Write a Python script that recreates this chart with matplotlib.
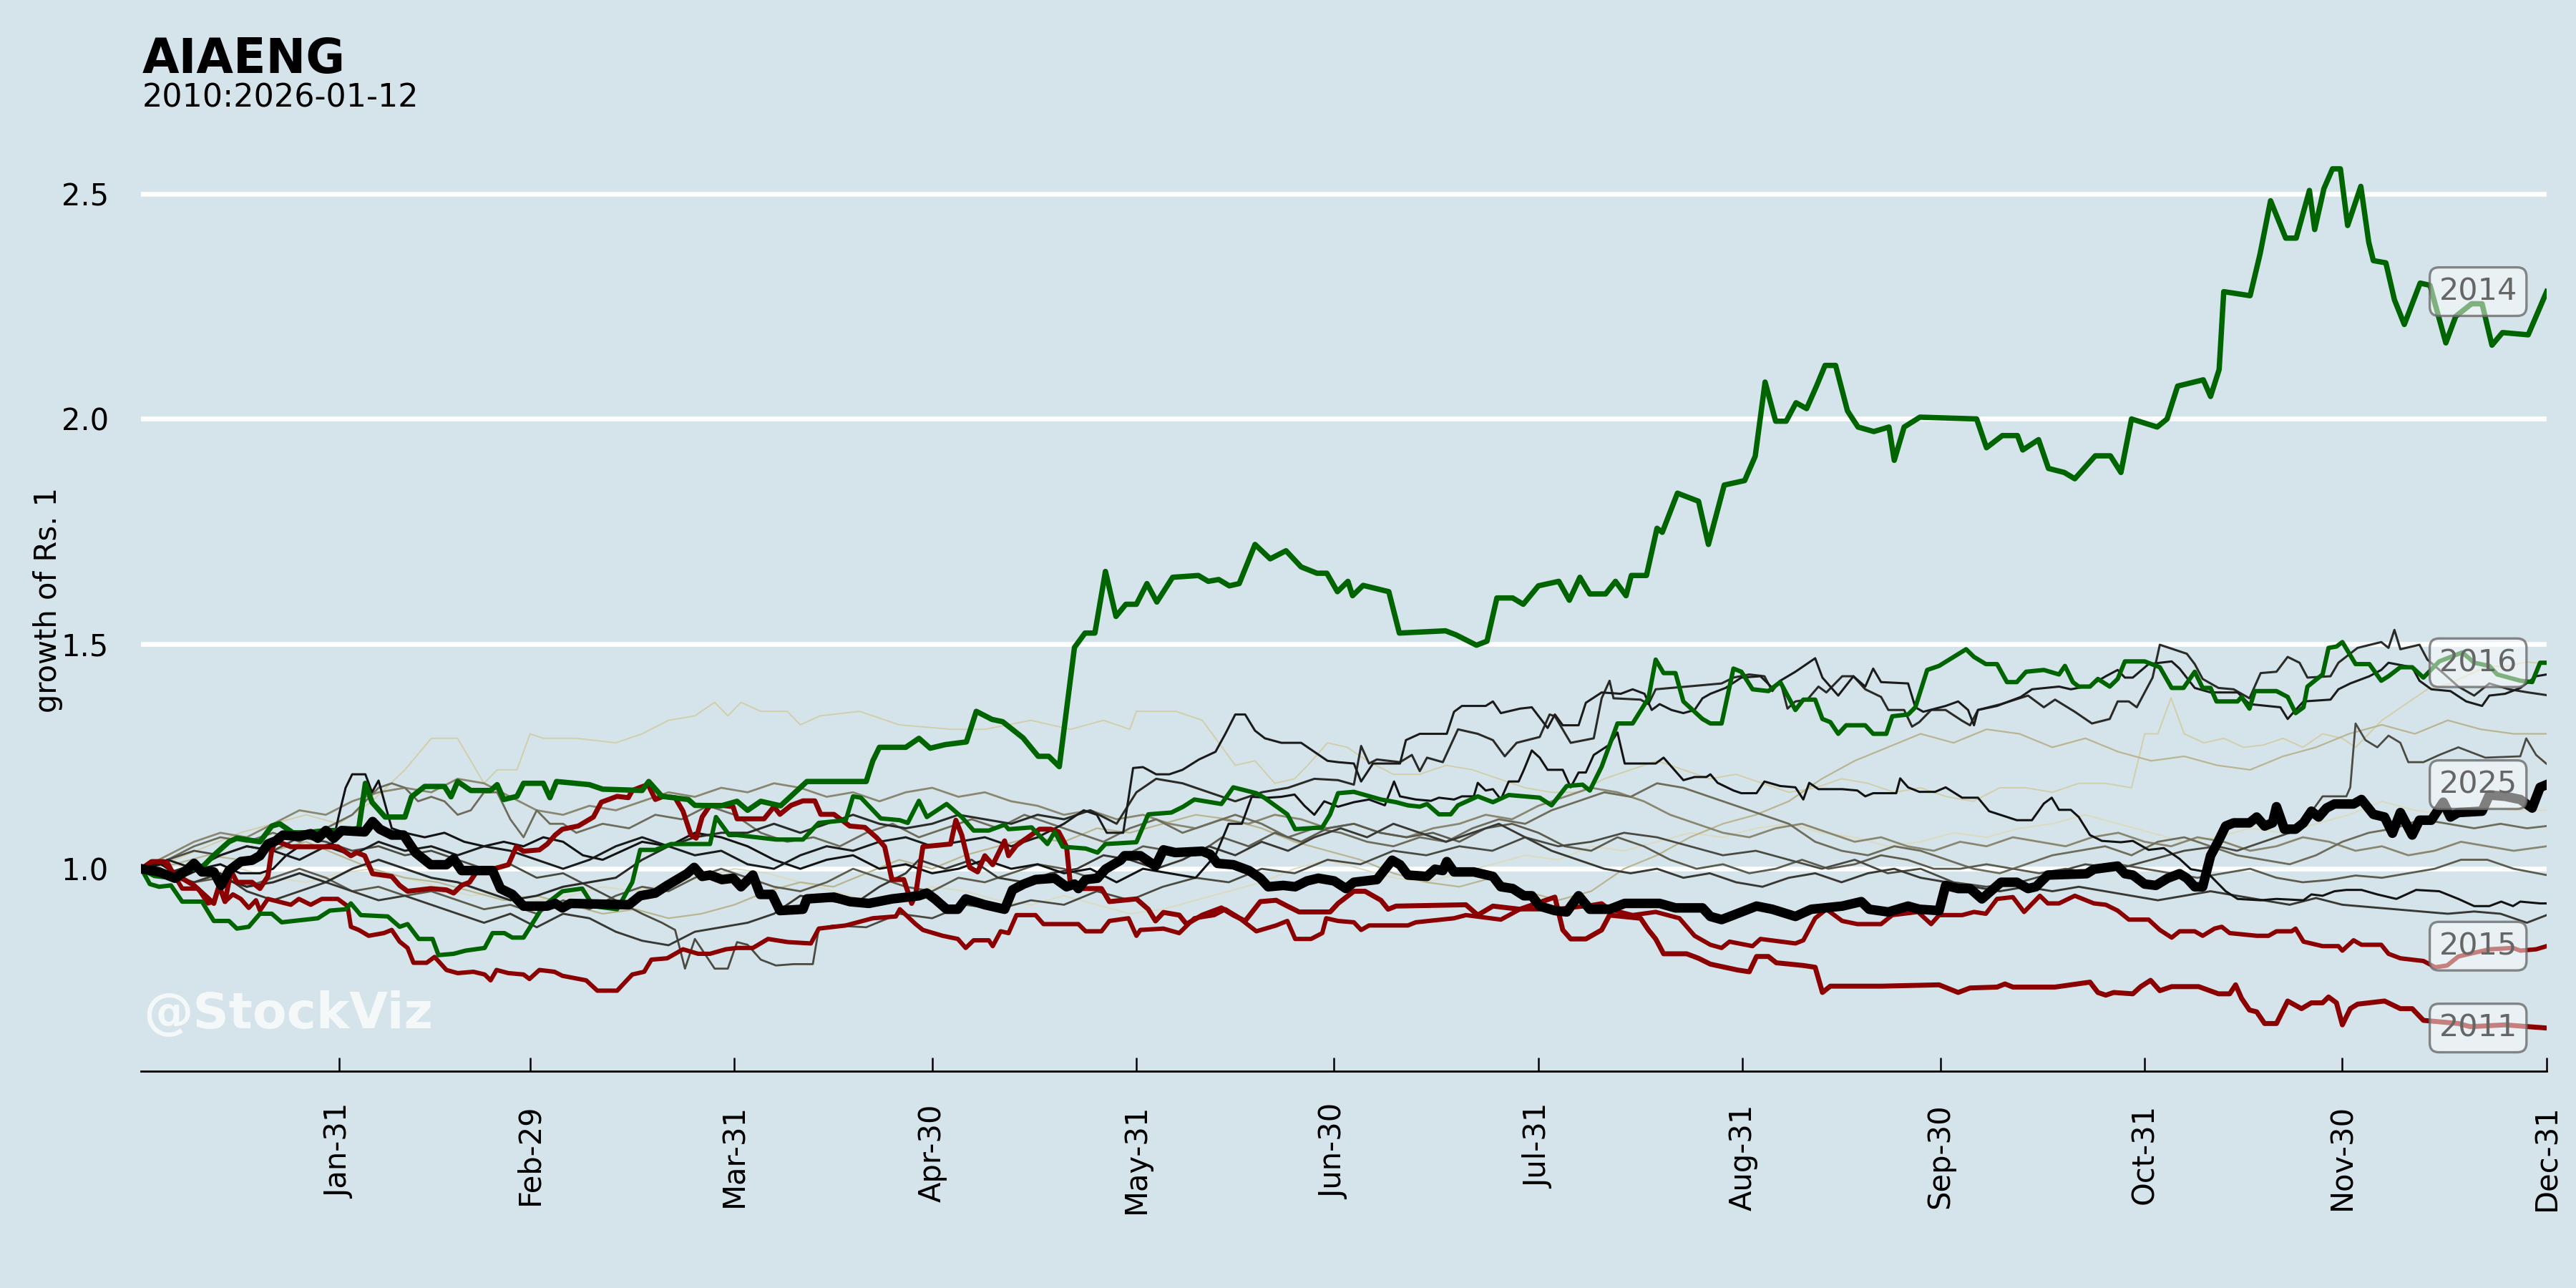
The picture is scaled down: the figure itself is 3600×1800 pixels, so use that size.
import matplotlib
matplotlib.use("Agg")
import matplotlib.pyplot as plt

# ---------------- data (day-of-year, growth of Rs. 1) ----------------
month_ticks = [30, 59, 90, 120, 151, 181, 212, 243, 273, 304, 334, 365]
month_labels = ["Jan-31", "Feb-29", "Mar-31", "Apr-30", "May-31", "Jun-30",
                "Jul-31", "Aug-31", "Sep-30", "Oct-31", "Nov-30", "Dec-31"]

s2014 = [(0,1.0),(2,0.985),(5,0.98),(7,1.0),(9,1.0),(11,1.03),(13.3,1.06),(14.5,1.068),(18,1.06),
 (19.8,1.095),(21,1.1),(23,1.08),(25,1.08),(28,1.085),(31,1.085),(33,1.09),(34,1.19),(35,1.148),
 (37,1.115),(40,1.115),(41,1.16),(43,1.183),(46,1.183),(47,1.16),(48,1.194),(50,1.174),(53,1.174),
 (54,1.187),(55,1.154),(57,1.161),(58,1.19),(61,1.19),(62,1.158),(63,1.194),(68,1.187),(70,1.177),
 (76,1.174),(77,1.194),(79,1.161),(83,1.154),(84,1.141),(88,1.14),(90.4,1.15),(92,1.13),(94,1.15),
 (97,1.14),(101,1.194),(110,1.194),(111,1.24),(112,1.27),(116,1.27),(118,1.29),(119.7,1.268),
 (122,1.276),(125.2,1.282),(126.7,1.35),(129.1,1.332),(130.7,1.327),(133.8,1.291),(136.1,1.25),
 (137.7,1.25),(139.3,1.227),(141.6,1.492),(143.2,1.524),(144.7,1.524),(146.3,1.661),(147.9,1.561),
 (149.4,1.588),(151,1.588),(152.6,1.634),(154.1,1.593),(156.5,1.648),(160.4,1.652),(161.9,1.639),
 (163.5,1.643),(165.1,1.629),(166.6,1.634),(169,1.721),(171.3,1.689),(173.7,1.707),(176,1.671),
 (178.4,1.657),(179.9,1.657),(181.5,1.616),(183.1,1.639),(183.8,1.607),(185.4,1.63),(189.3,1.616),
 (190.9,1.524),(197.9,1.529),(199.5,1.52),(202.6,1.497),(204.2,1.506),(205.7,1.602),(208.1,1.602),
 (209.7,1.588),(212,1.629),(215.1,1.639),(216.7,1.597),(218.3,1.648),(219.8,1.611),(222.2,1.611),
 (223.7,1.639),(225.3,1.607),(226.1,1.652),(228.4,1.652),(230,1.757),(230.8,1.748),(233.1,1.835),
 (236.3,1.817),(237.8,1.721),(240.2,1.853),(243.3,1.863),(244.9,1.917),(246.4,2.082),(248,1.995),
 (249.6,1.995),(251.1,2.036),(252.7,2.023),(254.2,2.073),(255.5,2.119),(257.1,2.119),(258.9,2.018),
 (260.5,1.982),(262.9,1.972),(265.2,1.982),(266,1.908),(267.5,1.982),(269.9,2.004),(278.5,2.0),
 (280,1.936),(282.4,1.963),(284.7,1.963),(285.5,1.931),(287.9,1.954),(289.4,1.89),(291.8,1.881),
 (293.4,1.867),(296.5,1.918),(298.8,1.918),(300.4,1.881),(302,2.0),(305.9,1.982),(307.4,2.0),
 (309,2.073),(312.9,2.087),(314,2.05),(315.3,2.11),(316,2.283),(320,2.274),(321.5,2.366),
 (323.1,2.485),(325.4,2.402),(327,2.402),(329,2.508),(329.8,2.421),(331.2,2.512),(332.5,2.556),
 (333.7,2.556),(334.8,2.43),(336.8,2.517),(338,2.393),(338.7,2.352),(340.6,2.347),(341.9,2.265),
 (343.4,2.21),(345.8,2.302),(347.3,2.297),(349.7,2.169),(351.2,2.228),(353.6,2.256),(355.2,2.256),
 (356.7,2.164),(358.3,2.192),(362.2,2.187),(365,2.283)]

s2016 = [(0,1.0),(1.3,0.966),(2.7,0.96),(4.5,0.963),(6.2,0.927),(9.2,0.927),(11,0.884),(13.3,0.884),
 (14.5,0.867),(16.3,0.871),(18,0.9),(19.8,0.9),(21.3,0.881),(26.8,0.89),(28.6,0.907),(31,0.91),
 (31.8,0.923),(33.3,0.897),(37.4,0.894),(39.2,0.871),(40.4,0.877),(42.1,0.844),(44.2,0.844),
 (45.1,0.808),(47.4,0.811),(49.2,0.818),(52.1,0.824),(53.3,0.857),(55.1,0.857),(56.3,0.847),
 (58,0.847),(61,0.917),(63.9,0.95),(66.9,0.956),(68.6,0.917),(72.2,0.91),(74.5,0.97),(75.7,1.042),
 (78,1.042),(80.4,1.055),(86.3,1.055),(87.2,1.115),(89.2,1.075),(90.4,1.075),(96.3,1.065),
 (100.4,1.065),(102.8,1.102),(106.9,1.108),(108,1.161),(109.2,1.158),(112.2,1.112),(115.1,1.108),
 (116.3,1.102),(118,1.151),(119.2,1.115),(122.2,1.144),(124.5,1.115),(126.3,1.085),(128.6,1.085),
 (131,1.098),(131.6,1.088),(135.1,1.092),(137.5,1.055),(138.6,1.082),(139.8,1.049),(143.3,1.045),
 (145.1,1.036),(146.3,1.055),(151,1.059),(152.8,1.121),(156.3,1.125),(158.1,1.138),(159.8,1.154),
 (163.9,1.144),(165.7,1.181),(169.2,1.168),(170.4,1.158),(173.9,1.121),(175.1,1.088),(179.2,1.092),
 (180.4,1.121),(181.6,1.168),(184,1.171),(188.1,1.154),(190.4,1.148),(192.2,1.141),(194,1.138),
 (195.1,1.144),(196.9,1.121),(198.7,1.121),(199.8,1.141),(202.8,1.161),(205.1,1.148),(207.5,1.164),
 (212.2,1.158),(214,1.141),(216.3,1.184),(218.7,1.187),(219.8,1.174),(221.6,1.227),(224,1.323),
 (226.3,1.323),(228.7,1.379),(229.8,1.465),(231,1.435),(232.8,1.435),(234,1.372),(236.9,1.333),
 (238.1,1.323),(239.8,1.323),(241.6,1.445),(242.8,1.438),(244.5,1.399),(246.9,1.395),(248.7,1.415),
 (251,1.353),(252.2,1.376),(254,1.376),(255.1,1.333),(256.3,1.326),(257.5,1.3),(258.7,1.319),
 (261.6,1.319),(262.8,1.3),(264.8,1.3),(265.7,1.339),(268.1,1.343),(269.2,1.359),(271,1.442),
 (272.8,1.451),(276.9,1.488),(278.1,1.471),(279.9,1.455),(281.6,1.455),(283.1,1.415),(284.6,1.415),
 (286,1.438),(288.7,1.442),(291,1.432),(291.9,1.451),(293.1,1.415),(294,1.405),(295.7,1.405),
 (296.9,1.422),(298.7,1.405),(299.9,1.422),(301,1.461),(304,1.461),(306.3,1.448),(308.1,1.402),
 (309.9,1.402),(311.6,1.438),(312.8,1.402),(314,1.402),(314.9,1.372),(318.1,1.372),(318.7,1.382),
 (319.9,1.356),(320.7,1.395),(324,1.395),(325.7,1.382),(326.9,1.346),(328.1,1.359),(328.7,1.405),
 (331,1.432),(331.9,1.491),(333.1,1.494),(334,1.504),(336,1.455),(338.1,1.455),(339.9,1.418),
 (341,1.428),(342.8,1.448),(344.6,1.448),(346.3,1.425),(348.7,1.461),(352.2,1.481),(354,1.458),
 (356.3,1.451),(357.5,1.432),(361,1.418),(362.8,1.415),(364,1.458),(365,1.458)]

s2011 = [(0,1.0),(1.6,1.016),(3.4,1.016),(4.5,0.996),(5.7,0.983),(8,0.963),(11,0.923),(11.8,0.963),
 (12.7,0.927),(13.6,0.996),(14.5,0.97),(16.8,0.97),(18,0.956),(19.2,0.983),(19.8,1.042),(20.4,1.062),
 (22.7,1.049),(29.8,1.049),(31.8,1.029),(32.7,1.036),(33.9,1.029),(35.1,0.989),(38,0.983),(39.2,0.963),
 (40.4,0.95),(43.9,0.956),(46.3,0.953),(47.4,0.946),(48.6,0.963),(49.8,0.97),(51,0.996),(53.3,0.999),
 (55.7,1.009),(56.9,1.049),(58,1.039),(60.4,1.042),(61.6,1.055),(62.8,1.075),(63.9,1.088),(66.3,1.095),
 (68.6,1.115),(69.8,1.148),(72.2,1.161),(73.9,1.158),(74.5,1.174),(75.7,1.181),(76.9,1.187),(78,1.154),
 (79.2,1.161),(81,1.158),(82.2,1.128),(83.4,1.075),(84.2,1.068),(85.1,1.115),(86.3,1.141),(88.1,1.141),
 (89.8,1.138),(90.4,1.111),(94.5,1.111),(96,1.138),(96.9,1.121),(98.6,1.141),(100.4,1.151),
 (102.2,1.151),(103.1,1.121),(105.1,1.121),(107.5,1.095),(109.8,1.092),(111.6,1.069),(112.8,1.049),
 (113.9,0.976),(115.7,0.976),(116.9,0.923),(117.5,0.943),(118.6,1.049),(122.8,1.055),(123.6,1.108),
 (124.5,1.075),(125.7,1.003),(126.9,0.993),(128,1.029),(129.2,1.009),(131,1.062),(131.6,1.029),
 (132.8,1.052),(136.3,1.088),(138,1.088),(139.2,1.082),(140.4,1.049),(141,0.963),(142.2,0.956),
 (145.7,0.956),(146.9,0.927),(151,0.933),(152.8,0.91),(153.9,0.884),(155.1,0.903),(157.5,0.897),
 (158.6,0.877),(161,0.897),(163.9,0.913),(165.7,0.897),(167.5,0.884),(169.8,0.927),(172.2,0.93),
 (173.9,0.917),(175.7,0.904),(180.4,0.904),(181.6,0.923),(184,0.95),(185.7,0.95),(188.1,0.93),
 (189.2,0.91),(190.4,0.917),(201,0.92),(202.8,0.897),(205.1,0.917),(209.2,0.91),(214.5,0.937),
 (215.7,0.864),(216.9,0.844),(219.2,0.844),(221.6,0.864),(222.8,0.897),(227.5,0.89),(228.7,0.864),
 (229.8,0.844),(231,0.811),(234.5,0.811),(236.3,0.801),(238.1,0.788),(242.2,0.775),(244,0.771),
 (245.1,0.805),(246.9,0.805),(248.1,0.791),(252.2,0.785),(254,0.781),(255.1,0.725),(256.3,0.739),
 (264,0.739),(272.8,0.742),(275.7,0.725),(277.5,0.735),(281.6,0.737),(282.8,0.744),(284,0.737),
 (290.4,0.737),(292.8,0.742),(295.7,0.748),(296.9,0.725),(298.1,0.719),(299.3,0.725),(302.2,0.722),
 (303.4,0.738),(304.9,0.752),(306.3,0.729),(308.1,0.738),(312.2,0.738),(315.2,0.722),(316.9,0.722),
 (317.8,0.742),(318.7,0.712),(319.9,0.686),(321,0.682),(322.2,0.656),(324,0.656),(325.7,0.706),
 (327.8,0.689),(329.3,0.702),(331,0.702),(331.9,0.715),(333.1,0.702),(334,0.653),(335.2,0.689),
 (336.3,0.699),(340.4,0.706),(342.8,0.689),(344.6,0.689),(346.3,0.663),(351.6,0.656),(353.4,0.649),
 (358.7,0.653),(362.2,0.649),(365,0.646)]

s2015 = [(0,1.0),(1.5,1.016),(3.9,1.016),(5.1,0.983),(6.2,0.956),(8.6,0.956),(10.1,0.923),(11,0.927),
 (11.8,0.963),(12.7,0.927),(13.9,0.943),(15.1,0.933),(16.3,0.913),(17.4,0.93),(18,0.907),(19.2,0.933),
 (22.7,0.92),(23.9,0.933),(25.7,0.92),(27.4,0.933),(29.8,0.933),(31.3,0.917),(31.8,0.871),(33,0.864),
 (34.5,0.851),(36.8,0.857),(38,0.864),(39.2,0.838),(40.4,0.824),(41.3,0.791),(43.3,0.791),(44.5,0.804),
 (46.3,0.775),(48,0.768),(50.4,0.771),(52.1,0.765),(53,0.752),(53.9,0.775),(55.7,0.768),(58,0.765),
 (58.9,0.755),(60.4,0.775),(62.7,0.771),(63.9,0.762),(67.5,0.752),(69.2,0.729),(72.2,0.729),
 (74.5,0.765),(76.3,0.771),(77.4,0.798),(79.8,0.801),(82.2,0.821),(84.5,0.811),(86.3,0.811),
 (88.7,0.821),(90.4,0.824),(92.8,0.824),(95.1,0.844),(98.1,0.837),(101.6,0.834),(102.8,0.867),
 (106.9,0.874),(111,0.89),(114.5,0.894),(115.1,0.91),(117.5,0.877),(118.6,0.864),(121.6,0.851),
 (123.9,0.844),(125.1,0.824),(126.3,0.841),(128.6,0.841),(129.2,0.828),(130.4,0.861),(131.6,0.857),
 (132.8,0.897),(135.7,0.897),(136.9,0.877),(142.2,0.877),(143.3,0.861),(145.7,0.861),(146.9,0.884),
 (149.8,0.89),(151,0.851),(151.6,0.864),(155.1,0.867),(157.5,0.857),(159.8,0.89),(162.8,0.897),
 (164.5,0.91),(166.3,0.894),(169.2,0.861),(172.2,0.874),(173.9,0.884),(175.1,0.844),(177.5,0.844),
 (179.2,0.857),(179.8,0.89),(181.6,0.884),(184,0.881),(185.1,0.864),(186.3,0.874),(192.2,0.874),
 (193.4,0.881),(199.2,0.89),(201,0.897),(206.3,0.887),(209.2,0.91),(214.5,0.91),(219.2,0.917),
 (221.6,0.923),(222.8,0.91),(226.3,0.897),(229.8,0.904),(233.4,0.89),(235.7,0.851),(238.1,0.831),
 (239.8,0.824),(241,0.838),(244.5,0.828),(245.7,0.844),(251,0.834),(252.2,0.841),(254,0.89),
 (255.7,0.91),(258.1,0.884),(260.4,0.877),(264,0.877),(265.7,0.897),(269.6,0.904),(271.6,0.877),
 (272.8,0.897),(276.3,0.897),(278.1,0.904),(279.9,0.9),(281.6,0.933),(284,0.937),(285.7,0.904),
 (288.1,0.94),(289.3,0.923),(291,0.923),(293.4,0.94),(296.3,0.923),(298.1,0.92),(299.9,0.907),
 (301.6,0.887),(304.6,0.887),(306.3,0.864),(308.1,0.847),(309.3,0.861),(311.6,0.861),(312.8,0.851),
 (314.6,0.867),(315.7,0.871),(316.9,0.857),(321,0.851),(322.8,0.851),(324,0.861),(326.3,0.861),
 (326.9,0.867),(328.1,0.838),(331,0.828),(333.4,0.828),(334,0.818),(335.7,0.841),(336.9,0.831),
 (339.9,0.831),(341,0.811),(342.8,0.801),(346.3,0.795),(348.1,0.781),(349.9,0.785),(351.6,0.805),
 (356.3,0.821),(359.9,0.824),(361,0.818),(363.4,0.821),(365,0.828)]

s2025 = [(0,1.0),(2.7,0.993),(5.1,0.979),(6.8,0.996),(8,1.012),(9.2,0.993),(11,0.993),(12.1,0.963),
 (13.3,0.996),(15.1,1.016),(16.8,1.019),(18,1.029),(19.2,1.055),(20.4,1.062),(21.5,1.075),(23.9,1.072),
 (25.7,1.078),(26.8,1.068),(28,1.085),(29.2,1.068),(30.4,1.085),(33.9,1.082),(35.1,1.105),(36.2,1.088),
 (38,1.075),(39.8,1.075),(41.6,1.036),(43.9,1.009),(46.3,1.009),(47.4,1.022),(48.6,0.996),(53.3,0.996),
 (54.5,0.956),(56.3,0.943),(58,0.917),(61.6,0.917),(62.8,0.923),(63.9,0.913),(65.1,0.923),(74,0.92),
 (75.7,0.94),(78,0.946),(79.8,0.963),(82.8,0.989),(83.9,1.003),(85.1,0.983),(86.3,0.986),(88.1,0.976),
 (89.8,0.979),(91,0.96),(92.8,0.986),(93.9,0.943),(95.7,0.943),(96.9,0.907),(100.4,0.91),(101,0.933),
 (105.1,0.937),(107.5,0.927),(110.4,0.923),(113.9,0.933),(118,0.94),(119.2,0.946),(120.4,0.933),
 (122.2,0.91),(123.9,0.91),(125.1,0.933),(128,0.92),(131,0.91),(132.2,0.953),(133.9,0.966),
 (135.7,0.976),(138.6,0.979),(140.4,0.96),(141.6,0.966),(142.2,0.956),(143.3,0.976),(145.1,0.979),
 (146.3,0.999),(148.6,1.019),(149.2,1.029),(151.6,1.029),(153.9,1.006),(155.1,1.042),(156.9,1.036),
 (161,1.039),(162.2,1.032),(163.3,1.012),(165.7,1.009),(168.1,0.996),(169.8,0.979),(171,0.96),
 (173.3,0.963),(175.1,0.96),(176.9,0.973),(178.6,0.979),(181,0.973),(182.8,0.956),(184,0.97),
 (187.5,0.976),(189.8,1.019),(191,1.009),(192.2,0.986),(195.1,0.983),(196.3,0.999),(197.5,0.996),
 (198.1,1.016),(199.2,0.993),(202.2,0.993),(205.1,0.983),(206.3,0.96),(208.1,0.956),(209.8,0.94),
 (211,0.94),(212.2,0.917),(214.5,0.907),(216.3,0.904),(218.1,0.94),(219.8,0.91),(222.8,0.91),
 (225.1,0.923),(230.4,0.923),(232.8,0.913),(236.9,0.913),(238.1,0.894),(239.8,0.887),(241.6,0.897),
 (245.1,0.917),(247.5,0.91),(251,0.894),(253.4,0.91),(258.1,0.917),(261,0.927),(262.2,0.91),
 (265.1,0.904),(268.1,0.917),(269.8,0.91),(272.8,0.907),(273.8,0.963),(275.7,0.956),(277.5,0.956),
 (279.3,0.933),(282.2,0.97),(284.6,0.97),(286.3,0.956),(287.5,0.96),(289.3,0.986),(295.2,0.989),
 (296.3,0.999),(299.9,1.006),(301,0.989),(302.2,0.986),(304,0.966),(305.7,0.963),(307.5,0.979),
 (309.3,0.989),(310.4,0.979),(311.6,0.96),(312.8,0.96),(314,1.029),(315.2,1.062),(316.3,1.095),
 (317.5,1.102),(319.9,1.102),(321,1.115),(322.2,1.095),(323.4,1.102),(324,1.138),(325.2,1.088),
 (326.9,1.088),(328.1,1.102),(329.3,1.128),(330.4,1.115),(331.6,1.135),(332.8,1.144),(335.7,1.144),
 (336.9,1.154),(338.7,1.121),(340.4,1.115),(341.6,1.079),(342.8,1.125),(344.6,1.075),(345.7,1.108),
 (347.5,1.108),(349.3,1.148),(350.4,1.115),(351.6,1.125),(355.2,1.128),(356.3,1.164),(358.7,1.161),
 (361,1.154),(362.8,1.135),(364,1.181),(365,1.187)]

s2024 = [(0,1.0),(4,1.02),(8,1.0),(12,1.03),(16,1.05),(20,1.04),(24,1.02),(28,1.05),(32,1.03),(36,1.06),
 (40,1.04),(44,1.05),(48,1.03),(52,1.05),(56,1.04),(60,1.02),(64,1.0),(68,1.02),(72,1.05),(76,1.07),
 (80,1.05),(84,1.03),(88,1.04),(92,1.01),(96,1.0),(100,1.03),(104,1.05),(108,1.04),(112,1.06),
 (116,1.07),(120,1.05),(124,1.06),(128,1.07),(132,1.05),(136,1.07),(140,1.1),(143,1.13),(145,1.12),
 (146.5,1.08),(149,1.08),(150.5,1.224),(152,1.226),(154,1.21),(156,1.21),(158,1.22),(160.5,1.243),
 (163,1.26),(164.5,1.3),(166,1.343),(167.5,1.343),(169,1.307),(170.5,1.29),(173,1.28),(176,1.28),
 (178,1.26),(180,1.24),(181.6,1.237),(184,1.234),(185.1,1.194),(186.9,1.234),(191,1.234),
 (191.9,1.286),(194,1.3),(198.1,1.3),(199.2,1.349),(200.4,1.362),(204,1.362),(205.1,1.372),
 (206.3,1.346),(209.2,1.356),(211,1.359),(213.4,1.313),(214.5,1.343),(215.7,1.319),(218.1,1.319),
 (219.2,1.369),(221.6,1.392),(224.5,1.389),(226.3,1.399),(228.1,1.389),(229.2,1.353),(230.4,1.366),
 (232.2,1.353),(234,1.346),(235.7,1.353),(236.9,1.379),(238.1,1.389),(240.4,1.402),(242.8,1.425),
 (245.7,1.428),(247.5,1.402),(248.7,1.418),(251,1.438),(254,1.468),(255.1,1.425),(257.5,1.385),
 (259.8,1.428),(261.6,1.405),(262.8,1.445),(264,1.415),(268.1,1.412),(269.2,1.359),(270.4,1.349),
 (273.8,1.362),(275.7,1.372),(277.2,1.353),(278.1,1.319),(278.7,1.353),(281.6,1.362),(285.2,1.382),
 (286.9,1.399),(291,1.405),(292.8,1.399),(295.7,1.407),(298.1,1.428),(299.9,1.442),(301,1.425),
 (302.2,1.425),(304.6,1.455),(308.1,1.461),(309.3,1.445),(311.6,1.402),(314,1.392),(318.1,1.392),
 (319.9,1.366),(324.6,1.359),(325.7,1.333),(326.9,1.353),(328.1,1.372),(332.2,1.376),(333.4,1.399),
 (335.2,1.412),(338.1,1.428),(339.9,1.442),(341,1.458),(344.6,1.448),(345.7,1.418),(347.5,1.399),
 (350.4,1.395),(352.8,1.372),(355.2,1.362),(356.3,1.385),(358.7,1.389),(361,1.402),(363.4,1.428),
 (365,1.432)]

s2023 = [(0,1.0),(4,0.99),(8,1.01),(12,0.98),(16,0.96),(20,0.97),(24,0.99),(28,0.97),(32,1.0),(36,1.02),
 (40,1.0),(44,0.98),(48,0.97),(52,0.95),(56,0.93),(60,0.94),(64,0.96),(68,0.97),(72,0.98),(76,1.02),
 (80,1.05),(84,1.07),(88,1.08),(92,1.08),(96,1.1),(100,1.08),(104,1.1),(108,1.12),(112,1.1),(116,1.09),
 (120,1.1),(124,1.12),(128,1.11),(132,1.1),(136,1.12),(140,1.11),(144,1.13),(148,1.1),(151,1.17),
 (154,1.2),(158,1.19),(162,1.17),(166,1.15),(170,1.17),(174,1.18),(178,1.2),(181.6,1.197),(184,1.187),
 (185.1,1.273),(186.3,1.234),(187.5,1.243),(191,1.237),(192.8,1.253),(194,1.217),(195.1,1.247),
 (197.5,1.237),(199.8,1.31),(202.8,1.3),(205.1,1.286),(206.9,1.25),(208.7,1.28),(212.2,1.293),
 (213.7,1.343),(214.5,1.339),(216.9,1.28),(220.4,1.29),(221.6,1.379),(222.8,1.418),(223.4,1.379),
 (227.5,1.376),(228.7,1.366),(229.8,1.399),(234.5,1.405),(239.8,1.412),(241.6,1.425),(244,1.432),
 (246.3,1.428),(247.5,1.395),(248.7,1.418),(249.8,1.356),(251,1.372),(252.8,1.376),(254.5,1.405),
 (255.7,1.392),(258.1,1.428),(259.8,1.428),(261.6,1.399),(264,1.382),(265.1,1.353),(267.5,1.353),
 (268.7,1.316),(269.8,1.326),(271.6,1.353),(273.8,1.353),(276.3,1.329),(277.5,1.319),(278.7,1.353),
 (282.2,1.366),(286.3,1.385),(288.7,1.359),(290.4,1.376),(293.4,1.349),(296,1.323),(298.7,1.333),
 (299.9,1.372),(301.6,1.372),(302.8,1.359),(305.2,1.425),(306.3,1.498),(310.4,1.478),(311.6,1.455),
 (312.8,1.422),(315.2,1.402),(317.5,1.399),(319.9,1.379),(321.6,1.435),(324,1.438),(325.7,1.471),
 (327.5,1.458),(328.7,1.425),(332.2,1.428),(333.4,1.458),(336.3,1.491),(339.9,1.504),(341,1.491),
 (341.9,1.531),(342.8,1.488),(345.7,1.498),(346.9,1.465),(349.3,1.435),(351.6,1.405),(354,1.385),
 (356.3,1.412),(359.3,1.399),(362.2,1.392),(365,1.386)]

s2022 = [(0,1.0),(3,1.01),(6,0.98),(9,1.0),(12,1.01),(15,0.99),(18,0.99),(20,1.0),(22,1.03),(24,1.05),
 (27,1.05),(29,1.055),(30,1.12),(31,1.18),(32,1.21),(34,1.21),(35,1.17),(36,1.196),(38,1.09),(40,1.08),
 (43,1.07),(46,1.08),(49,1.06),(52,1.05),(55,1.06),(58,1.05),(61,1.07),(64,1.06),(67,1.03),(70,1.02),
 (73,1.04),(76,1.06),(80,1.05),(84,1.08),(88,1.07),(92,1.05),(96,1.02),(100,1.0),(104,1.02),(108,1.03),
 (112,1.0),(116,1.01),(120,0.99),(124,1.0),(128,1.02),(132,1.0),(136,1.01),(140,0.99),(144,1.0),
 (148,0.97),(152,1.0),(156,0.99),(160,0.98),(163,1.03),(165,1.1),(167,1.1),(168.5,1.16),(171,1.158),
 (173,1.16),(175,1.165),(176.5,1.14),(178,1.12),(179.5,1.15),(181.6,1.138),(184,1.148),(186.3,1.154),
 (188.7,1.141),(190.1,1.194),(191,1.161),(193.4,1.154),(195.7,1.151),(196.9,1.158),(199.2,1.154),
 (200.4,1.161),(202.2,1.161),(202.8,1.191),(204,1.174),(205.1,1.177),(206.3,1.154),(207.5,1.194),
 (209,1.194),(209.8,1.22),(211,1.263),(212.2,1.247),(213.4,1.22),(215.7,1.22),(216.9,1.181),
 (218.1,1.214),(219.2,1.214),(220.4,1.253),(222.8,1.276),(224,1.303),(225.1,1.234),(227.5,1.234),
 (229.8,1.234),(231,1.247),(232.2,1.227),(234,1.197),(235.7,1.204),(237.5,1.204),(238.1,1.21),
 (239.2,1.191),(241.6,1.174),(242.8,1.168),(245.1,1.168),(246.3,1.194),(248.7,1.184),(251,1.181),
 (252.2,1.154),(253.1,1.191),(254.5,1.177),(258.1,1.177),(260.4,1.174),(261.6,1.161),(262.8,1.168),
 (266.3,1.168),(266.9,1.201),(268.1,1.181),(269.8,1.171),(272.2,1.171),(273.8,1.181),(276.3,1.158),
 (278.7,1.158),(280.4,1.128),(284.6,1.108),(286.9,1.108),(288.7,1.145),(289.9,1.158),(291,1.131),
 (292.8,1.131),(294,1.115),(295.7,1.075),(297.5,1.062),(300.4,1.059),(302.2,1.062),(304.6,1.042),
 (306.9,1.046),(309.3,1.022),(311,0.999),(313.4,0.993),(316.3,0.95),(318.1,0.933),(321.6,0.93),
 (324,0.933),(328.1,0.93),(329.3,0.943),(331,0.94),(332.8,0.95),(334.6,0.953),(336.9,0.953),
 (339.3,0.943),(342.2,0.933),(345.2,0.953),(348.7,0.95),(351.6,0.933),(354,0.917),(356.3,0.917),
 (358.1,0.927),(359.9,0.917),(361,0.927),(364,0.923),(365,0.923)]

s2021 = [(0,1.0),(4,0.98),(8,0.97),(12,0.99),(16,0.95),(20,0.93),(24,0.95),(28,0.97),(32,0.95),(36,0.93),
 (40,0.94),(44,0.92),(48,0.9),(52,0.88),(56,0.9),(60,0.87),(64,0.9),(68,0.89),(72,0.86),(76,0.84),
 (80,0.83),(84,0.86),(88,0.87),(92,0.88),(96,0.9),(100,0.94),(104,0.93),(108,0.92),(112,0.96),
 (116,0.99),(118,1.02),(122,1.0),(126,1.02),(130,0.98),(134,0.97),(138,0.99),(142,1.0),(146,1.03),
 (150,1.02),(154,1.0),(158,1.02),(162,1.05),(166,1.03),(170,1.06),(174,1.04),(178,1.07),(182,1.09),
 (186,1.07),(190,1.1),(194,1.08),(198,1.06),(202,1.08),(206,1.1),(210,1.07),(214,1.04),(218,1.02),
 (222,1.0),(226,0.99),(230,1.0),(234,0.98),(238,0.99),(242,0.97),(246,0.96),(250,0.98),(254,0.99),
 (258,0.97),(262,0.99),(266,1.0),(270,0.98),(274,0.97),(278,0.96),(282,0.95),(286,0.96),(290,0.95),
 (294,0.96),(298,0.95),(302,0.94),(306,0.93),(310,0.94),(314,0.95),(318,0.94),(322,0.93),(326,0.92),
 (330,0.935),(334,0.92),(338,0.915),(342,0.91),(346,0.905),(350,0.9),(354,0.905),(358,0.9),
 (362,0.88),(365,0.897)]

s2020 = [(0,1.0),(4,1.02),(8,1.04),(12,1.03),(16,1.05),(20,1.04),(24,1.07),(28,1.06),(32,1.04),(36,1.05),
 (40,1.03),(44,1.04),(48,1.02),(52,1.0),(56,1.01),(60,0.98),(64,0.99),(68,0.96),(72,0.93),(76,0.9),
 (79,0.88),(81,0.864),(82.5,0.778),(84,0.844),(87,0.778),(89,0.778),(90.4,0.837),(92,0.831),(94,0.798),
 (96.3,0.785),(99,0.788),(101.9,0.788),(102.8,0.867),(105,0.874),(110,0.87),(115,0.9),(120,0.89),
 (125,0.92),(130,0.91),(135,0.93),(140,0.92),(145,0.95),(150,0.93),(155,0.96),(160,0.98),(165,0.97),
 (170,1.0),(175,0.99),(180,1.02),(185,1.01),(190,1.04),(195,1.03),(200,1.05),(205,1.04),(210,1.07),
 (215,1.05),(220,1.06),(225,1.08),(230,1.07),(235,1.05),(240,1.03),(245,1.04),(250,1.02),(255,1.0),
 (260,1.02),(265,0.99),(270,1.0),(275,0.97),(280,0.96),(285,0.97),(290,0.99),(295,1.01),(300,1.0),
 (305,1.02),(310,1.04),(315,1.05),(318,1.04),(322,1.06),(326,1.08),(328.1,1.102),(331,1.161),
 (334.6,1.161),(335.2,1.181),(336,1.323),(337.5,1.286),(339.3,1.27),(341,1.296),(342.8,1.28),
 (344,1.237),(346.3,1.237),(348.7,1.253),(351.6,1.27),(355.7,1.247),(361,1.25),(361.9,1.29),
 (363.4,1.253),(365,1.233)]

s2019 = [(0,1.0),(4,0.99),(8,0.97),(12,0.98),(16,0.96),(20,0.98),(24,1.0),(28,0.98),(32,0.95),(36,0.96),
 (40,0.94),(44,0.95),(48,0.93),(52,0.91),(56,0.92),(60,0.9),(64,0.93),(68,0.91),(72,0.94),(76,0.96),
 (80,0.95),(84,0.98),(88,1.0),(92,0.98),(96,0.96),(100,0.95),(104,0.97),(108,1.0),(112,0.98),(116,0.96),
 (120,0.95),(124,0.98),(128,0.97),(132,0.99),(136,1.01),(140,1.0),(144,0.98),(148,1.02),(152,1.05),
 (156,1.04),(160,1.03),(164,1.07),(168,1.05),(172,1.08),(176,1.06),(180,1.09),(184,1.1),(188,1.08),
 (192,1.07),(196,1.08),(200,1.06),(204,1.09),(208,1.1),(212,1.08),(216,1.05),(220,1.04),(224,1.07),
 (228,1.05),(232,1.02),(236,1.0),(240,1.01),(244,0.99),(248,1.0),(252,1.02),(256,1.0),(260,1.01),
 (264,1.03),(268,1.02),(272,1.0),(276,1.0),(280,1.01),(284,1.0),(288,0.99),(292,1.0),(296,0.99),
 (300,1.01),(304,1.0),(308,0.99),(312,0.98),(316,0.99),(320,1.0),(324,0.98),(328,0.97),(332,0.975),
 (336,0.985),(340,0.98),(344,0.99),(348,1.0),(352,1.02),(356,1.02),(360,1.0),(365,0.986)]

s2018 = [(0,1.0),(4,1.02),(8,1.05),(12,1.07),(16,1.06),(20,1.08),(24,1.06),(28,1.09),(32,1.12),(36,1.18),
 (38,1.19),(40,1.18),(42,1.15),(44,1.16),(46,1.15),(48,1.12),(50,1.13),(52,1.17),(54,1.17),(56,1.11),
 (58,1.07),(60,1.13),(62,1.1),(64,1.1),(66,1.08),(70,1.1),(74,1.09),(78,1.12),(82,1.11),(86,1.14),
 (90,1.12),(94,1.08),(98,1.06),(102,1.07),(106,1.05),(110,1.08),(114,1.1),(118,1.07),(122,1.09),
 (126,1.11),(130,1.09),(134,1.12),(138,1.1),(142,1.08),(146,1.06),(150,1.09),(154,1.11),(158,1.08),
 (162,1.1),(166,1.12),(170,1.1),(174,1.07),(178,1.09),(182,1.08),(186,1.06),(190,1.05),(194,1.07),
 (198,1.06),(202,1.09),(206,1.11),(210,1.1),(214,1.13),(218,1.15),(222,1.17),(226,1.16),(230,1.19),
 (234,1.18),(238,1.16),(242,1.14),(246,1.12),(250,1.1),(254,1.06),(258,1.04),(262,1.03),(266,1.05),
 (270,1.04),(274,1.02),(278,1.0),(282,0.99),(286,1.01),(290,1.03),(294,1.04),(298,1.05),(302,1.03),
 (306,1.06),(310,1.07),(314,1.05),(318,1.03),(322,1.02),(326,1.01),(330,1.03),(334,1.06),(338,1.08),
 (342,1.09),(346,1.11),(350,1.1),(354,1.09),(358,1.1),(362,1.09),(365,1.095)]

s2017 = [(0,1.0),(4,1.03),(8,1.06),(12,1.08),(16,1.07),(20,1.1),(24,1.13),(28,1.12),(32,1.15),(36,1.17),
 (40,1.18),(44,1.17),(48,1.2),(52,1.19),(56,1.16),(60,1.13),(64,1.12),(68,1.14),(72,1.13),(76,1.15),
 (80,1.17),(84,1.16),(88,1.18),(92,1.17),(96,1.19),(100,1.18),(104,1.16),(108,1.17),(112,1.15),
 (116,1.17),(120,1.18),(124,1.16),(128,1.17),(132,1.15),(136,1.14),(140,1.12),(144,1.13),(148,1.11),
 (152,1.12),(156,1.1),(160,1.09),(164,1.11),(168,1.1),(172,1.12),(176,1.11),(180,1.09),(184,1.1),
 (188,1.08),(192,1.07),(196,1.09),(200,1.1),(204,1.12),(208,1.11),(212,1.14),(216,1.16),(220,1.18),
 (224,1.17),(228,1.15),(232,1.12),(236,1.1),(240,1.08),(244,1.07),(248,1.09),(252,1.1),(256,1.08),
 (260,1.06),(264,1.07),(268,1.05),(272,1.04),(276,1.06),(280,1.05),(284,1.07),(288,1.06),(292,1.05),
 (296,1.07),(300,1.08),(304,1.06),(308,1.05),(312,1.07),(316,1.06),(320,1.04),(324,1.05),(328,1.07),
 (332,1.06),(336,1.04),(340,1.05),(344,1.03),(348,1.04),(352,1.06),(356,1.05),(360,1.04),(365,1.05)]

s2013 = [(0,1.0),(5,1.01),(10,1.03),(15,1.02),(20,1.04),(25,1.06),(30,1.03),(35,1.0),(40,0.98),(45,0.97),
 (50,0.95),(55,0.93),(60,0.94),(65,0.92),(70,0.9),(75,0.91),(80,0.89),(85,0.9),(90,0.92),(95,0.95),
 (100,0.97),(105,0.96),(110,0.99),(115,1.02),(120,1.0),(125,1.03),(130,1.05),(135,1.07),(140,1.06),
 (145,1.09),(150,1.08),(155,1.1),(160,1.12),(165,1.11),(170,1.09),(175,1.06),(180,1.04),(185,1.02),
 (190,0.99),(195,0.97),(200,0.96),(205,0.98),(210,0.95),(215,0.93),(220,0.95),(225,1.0),(230,1.03),
 (235,1.07),(240,1.1),(245,1.12),(250,1.15),(255,1.2),(260,1.24),(265,1.27),(270,1.3),(275,1.28),
 (280,1.31),(285,1.3),(290,1.27),(295,1.29),(300,1.26),(305,1.24),(310,1.25),(315,1.23),(320,1.22),
 (325,1.25),(330,1.27),(335,1.3),(340,1.32),(345,1.3),(350,1.33),(355,1.31),(360,1.3),(365,1.3)]

s2012 = [(0,1.0),(5,1.02),(10,1.05),(15,1.08),(20,1.1),(25,1.12),(30,1.1),(35,1.15),(40,1.22),(44,1.29),
 (48,1.29),(52,1.19),(54,1.22),(57,1.22),(59,1.3),(61,1.29),(66,1.29),(72,1.28),(76,1.3),(80,1.33),
 (84,1.34),(87,1.37),(89,1.34),(91,1.37),(94,1.35),(98,1.35),(100,1.32),(103,1.34),(109,1.35),
 (115,1.32),(123,1.31),(128,1.31),(135,1.33),(141,1.31),(146,1.33),(150,1.31),(151,1.35),(157,1.35),
 (161,1.33),(164,1.27),(166,1.23),(169,1.24),(172,1.19),(175,1.2),(177,1.23),(180,1.28),(183,1.27),
 (186,1.24),(190,1.21),(194,1.21),(198,1.23),(202,1.22),(206,1.2),(210,1.18),(214,1.17),(218,1.17),
 (222,1.2),(226,1.22),(230,1.24),(234,1.22),(238,1.2),(242,1.21),(246,1.19),(250,1.17),(254,1.18),
 (258,1.2),(262,1.19),(266,1.17),(270,1.18),(274,1.16),(278,1.15),(282,1.18),(286,1.18),(290,1.17),
 (294,1.19),(298,1.19),(302,1.18),(304,1.3),(306,1.3),(308,1.38),(310,1.3),(313,1.28),(316,1.29),
 (319,1.27),(322,1.275),(325,1.29),(328,1.27),(331,1.3),(334,1.29),(336,1.27),(338,1.3),(340,1.33),
 (342,1.35),(344,1.37),(347,1.4),(350,1.41),(353,1.43),(356,1.45),(359,1.45),(362,1.46),(365,1.455)]

s2010 = [(0,1.0),(5,1.01),(10,0.99),(15,1.0),(20,0.98),(25,0.97),(30,0.99),(35,1.0),(40,0.98),(45,0.96),
 (50,0.94),(55,0.95),(60,0.93),(65,0.94),(70,0.96),(75,0.95),(80,0.97),(85,0.98),(90,1.0),(95,0.99),
 (100,0.97),(105,0.95),(110,0.93),(115,0.94),(120,0.96),(125,0.95),(130,0.93),(135,0.92),(140,0.94),
 (145,0.92),(150,0.9),(155,0.91),(160,0.93),(165,0.95),(170,0.97),(175,1.0),(180,1.02),(185,1.0),
 (190,0.98),(195,0.97),(200,0.99),(205,1.01),(210,1.03),(215,1.02),(220,1.05),(225,1.04),(230,1.06),
 (235,1.08),(240,1.07),(245,1.09),(250,1.1),(255,1.08),(260,1.07),(265,1.05),(270,1.06),(275,1.08),
 (280,1.07),(285,1.09),(290,1.1),(295,1.12),(300,1.1),(305,1.08),(310,1.06),(315,1.07),(320,1.09),
 (325,1.08),(330,1.1),(335,1.12),(340,1.15),(345,1.13),(350,1.12),(355,1.14),(360,1.13),(365,1.13)]

thin_years = [2010, 2012, 2013, 2017, 2018, 2019, 2020, 2021, 2022, 2023, 2024]
thin_series = [s2010, s2012, s2013, s2017, s2018, s2019, s2020, s2021, s2022, s2023, s2024]
thin_colors = ["#dcdac0", "#d2cea9", "#b9b591", "#8a8770", "#6e6c5b", "#5d5b4e", "#4b4a41",
               "#393832", "#121212", "#2a2a27", "#1b1b1b"]
thin_widths = [0.7, 0.7, 0.8, 1.0, 1.0, 1.0, 1.0, 1.05, 1.1, 1.1, 1.1]

hi_years = ["2015", "2011", "2016", "2014", "2025"]
hi_series = [s2015, s2011, s2016, s2014, s2025]
hi_colors = ["#8b0000", "#8b0000", "#006400", "#006400", "#000000"]
hi_widths = [2.2, 2.5, 2.2, 2.7, 4.8]

# ---------------- figure ----------------
BG = "#d5e4eb"
plt.rcParams["font.family"] = ["DejaVu Sans"]
fig = plt.figure(figsize=(18, 9), dpi=200, facecolor=BG)
ax = fig.add_axes([0.05486, 0.16833, 0.93375, 0.73167], facecolor=BG)

for s, c, w in zip(thin_series, thin_colors, thin_widths):
    xs, ys = zip(*s)
    ax.plot(xs, ys, color=c, lw=w, zorder=2, solid_joinstyle="round")

for s, c, w in zip(hi_series, hi_colors, hi_widths):
    xs, ys = zip(*s)
    ax.plot(xs, ys, color=c, lw=w, zorder=3, solid_joinstyle="round")

label_day = 354.6
for name, s in zip(hi_years, hi_series):
    ax.text(label_day, s[-1][1], name, ha="center", va="center", fontsize=15.5,
            color="#666666", zorder=5,
            bbox=dict(boxstyle="round,pad=0.3", fc=(1, 1, 1, 0.5),
                      ec=(0.42, 0.42, 0.42, 0.8), lw=1.2))

ax.set_xlim(0, 365)
ax.set_ylim(0.55, 2.645)
ax.set_yticks([1.0, 1.5, 2.0, 2.5])
ax.set_yticklabels(["1.0", "1.5", "2.0", "2.5"])
ax.set_xticks(month_ticks)
ax.set_xticklabels(month_labels, rotation=90, va="top", ha="center")
ax.yaxis.grid(True, color="white", lw=2.4, zorder=1)
ax.xaxis.grid(False)
ax.set_axisbelow(True)
for sp in ["top", "right", "left"]:
    ax.spines[sp].set_visible(False)
ax.spines["bottom"].set_color("black")
ax.spines["bottom"].set_linewidth(1.0)
ax.tick_params(axis="x", direction="in", length=6.8, width=0.9, pad=16.5,
               labelsize=15, colors="black")
ax.tick_params(axis="y", length=0, pad=16.5, labelsize=15, colors="black")

fig.text(67 / 3600, 1 - 838 / 1800, "growth of Rs. 1", rotation=90,
         ha="center", va="center", fontsize=15)
fig.text(199 / 3600, 1 - 102 / 1800, "AIAENG", fontsize=24, fontweight="bold",
         ha="left", va="baseline")
fig.text(199 / 3600, 1 - 150 / 1800, "2010:2026-01-12", fontsize=16,
         ha="left", va="baseline")
ax.text(0.001, 0.0456, "@StockViz", transform=ax.transAxes, fontsize=25,
        fontweight="bold", color="white", alpha=0.75, ha="left", va="baseline",
        zorder=6)

fig.savefig("out.png", dpi=200, facecolor=BG)
